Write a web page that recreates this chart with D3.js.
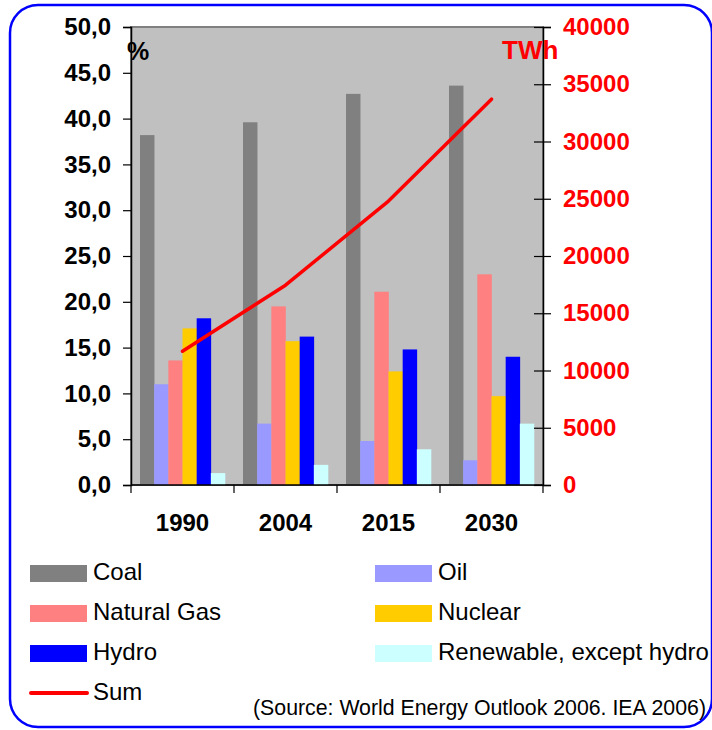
<!DOCTYPE html>
<html>
<head>
<meta charset="utf-8">
<script src="https://cdn.jsdelivr.net/npm/d3@7"></script>
<style>
  html, body { margin: 0; padding: 0; background: #fff; }
  svg { display: block; font-family: "Liberation Sans", Arial, sans-serif; }
</style>
</head>
<body>
<svg id="chart" width="712" height="730"></svg>
<script>
// ---- data ----
const years = ["1990", "2004", "2015", "2030"];
const sources = ["Coal", "Oil", "Natural Gas", "Nuclear", "Hydro", "Renewable, except hydro"];
const coal       = [38.2, 39.6, 42.7, 43.6];
const oil        = [11.0, 6.7, 4.8, 2.7];
const naturalGas = [13.6, 19.5, 21.1, 23.0];
const nuclear    = [17.1, 15.7, 12.4, 9.7];
const hydro      = [18.2, 16.2, 14.8, 14.0];
const renewable  = [1.3, 2.2, 3.9, 6.7];
const sumTWh     = [11680, 17450, 24800, 33700];
const leftTicks  = [0, 5, 10, 15, 20, 25, 30, 35, 40, 45, 50];
const rightTicks = [0, 5000, 10000, 15000, 20000, 25000, 30000, 35000, 40000];
const colors = ["#808080", "#9999FF", "#FF8080", "#FFCC00", "#0000FF", "#CCFFFF"];

const seriesValues = [coal, oil, naturalGas, nuclear, hydro, renewable];

const svg = d3.select("#chart");

// frame
svg.append("rect")
  .attr("x", 10).attr("y", 5).attr("width", 702).attr("height", 722)
  .attr("rx", 28).attr("ry", 28)
  .attr("fill", "none").attr("stroke", "#0000FF").attr("stroke-width", 2.5);

const L = 131, R = 543, T = 27, B = 485;

const x0 = d3.scaleBand().domain(years).range([L, R]).padding(0);
const x1 = d3.scaleBand().domain(sources).range([0, x0.bandwidth()])
  .paddingInner(0).paddingOuter(0.635);
const yL = d3.scaleLinear().domain([0, 50]).range([B, T]);
const yR = d3.scaleLinear().domain([0, 40000]).range([B, T]);

// plot area
svg.append("rect")
  .attr("x", L).attr("y", T).attr("width", R - L).attr("height", B - T)
  .attr("fill", "#C0C0C0").attr("stroke", "#808080").attr("stroke-width", 2);

// bars
const groups = svg.append("g").selectAll("g")
  .data(years).join("g")
  .attr("transform", d => `translate(${x0(d)},0)`);

groups.selectAll("rect")
  .data((d, i) => sources.map((s, j) => ({ s, j, v: seriesValues[j][i] })))
  .join("rect")
  .attr("x", d => x1(d.s))
  .attr("width", x1.bandwidth() + 0.3)
  .attr("y", d => yL(d.v))
  .attr("height", d => B - yL(d.v))
  .attr("fill", d => colors[d.j]);

// left axis
const gL = svg.append("g").attr("transform", `translate(${L},0)`)
  .call(d3.axisLeft(yL).tickValues(leftTicks)
    .tickFormat(d => d.toFixed(1).replace(".", ","))
    .tickSize(8).tickPadding(12));
gL.select(".domain").attr("stroke", "#000").attr("stroke-width", 1.5);
gL.selectAll(".tick line").attr("stroke", "#000").attr("stroke-width", 1.2);
gL.selectAll(".tick text").attr("fill", "#000")
  .style("font-size", "24px").style("font-weight", "bold")
  .style("font-family", "'Liberation Sans', Arial, sans-serif");

// right axis
const gR = svg.append("g").attr("transform", `translate(${R},0)`)
  .call(d3.axisRight(yR).tickValues(rightTicks)
    .tickFormat(d3.format("d"))
    .tickSize(8).tickPadding(12));
gR.select(".domain").attr("stroke", "#000").attr("stroke-width", 1.5);
gR.selectAll(".tick line").attr("x1", -9).attr("x2", 8)
  .attr("stroke", "#000").attr("stroke-width", 1.2);
gR.selectAll(".tick text").attr("fill", "#FF0000")
  .style("font-size", "24px").style("font-weight", "bold")
  .style("font-family", "'Liberation Sans', Arial, sans-serif");

// bottom axis (labels at centers, ticks at boundaries)
const gB = svg.append("g").attr("transform", `translate(0,${B})`)
  .call(d3.axisBottom(x0).tickSize(0).tickPadding(29));
gB.select(".domain").remove();
gB.selectAll(".tick text").attr("fill", "#000")
  .style("font-size", "24px").style("font-weight", "bold")
  .style("font-family", "'Liberation Sans', Arial, sans-serif");
gB.append("line").attr("x1", L).attr("x2", R).attr("y1", 0).attr("y2", 0)
  .attr("stroke", "#000").attr("stroke-width", 1.5);
const bounds = years.map(d => x0(d)).concat([x0.range()[1]]);
gB.selectAll(".btick").data(bounds).join("line").attr("class", "btick")
  .attr("x1", d => d).attr("x2", d => d).attr("y1", 0).attr("y2", 8)
  .attr("stroke", "#000").attr("stroke-width", 1.2);

// sum line
const line = d3.line()
  .x((d, i) => x0(years[i]) + x0.bandwidth() / 2)
  .y(d => yR(d));
svg.append("path").datum(sumTWh)
  .attr("d", line).attr("fill", "none")
  .attr("stroke", "#FF0000").attr("stroke-width", 3.5)
  .attr("stroke-linejoin", "round").attr("stroke-linecap", "round");

// axis unit labels
svg.append("text").attr("x", 127).attr("y", 60).text("%")
  .style("font-size", "25px").style("font-weight", "bold").attr("fill", "#000");
svg.append("text").attr("x", 502).attr("y", 59).text("TWh")
  .style("font-size", "26px").style("font-weight", "bold").attr("fill", "#FF0000");

// legend
const legendItems = [
  { name: "Coal", c: colors[0], x: 30, y: 565 },
  { name: "Oil", c: colors[1], x: 375, y: 565 },
  { name: "Natural Gas", c: colors[2], x: 30, y: 605 },
  { name: "Nuclear", c: colors[3], x: 375, y: 605 },
  { name: "Hydro", c: colors[4], x: 30, y: 645 },
  { name: "Renewable, except hydro", c: colors[5], x: 375, y: 645 }
];
const lg = svg.append("g");
lg.selectAll("rect").data(legendItems).join("rect")
  .attr("x", d => d.x).attr("y", d => d.y).attr("width", 57).attr("height", 17)
  .attr("fill", d => d.c);
lg.selectAll("text").data(legendItems).join("text")
  .attr("x", d => d.x + 63).attr("y", d => d.y + 15)
  .text(d => d.name)
  .style("font-size", "24px").attr("fill", "#000");
lg.append("line").attr("x1", 31).attr("x2", 87).attr("y1", 693).attr("y2", 693)
  .attr("stroke", "#FF0000").attr("stroke-width", 4).attr("stroke-linecap", "round");
lg.append("text").attr("x", 93).attr("y", 700).text("Sum")
  .style("font-size", "24px").attr("fill", "#000");

// source
svg.append("text").attr("x", 706).attr("y", 715).attr("text-anchor", "end")
  .text("(Source: World Energy Outlook 2006. IEA 2006)")
  .style("font-size", "21.3px").attr("fill", "#000");
</script>
</body>
</html>
